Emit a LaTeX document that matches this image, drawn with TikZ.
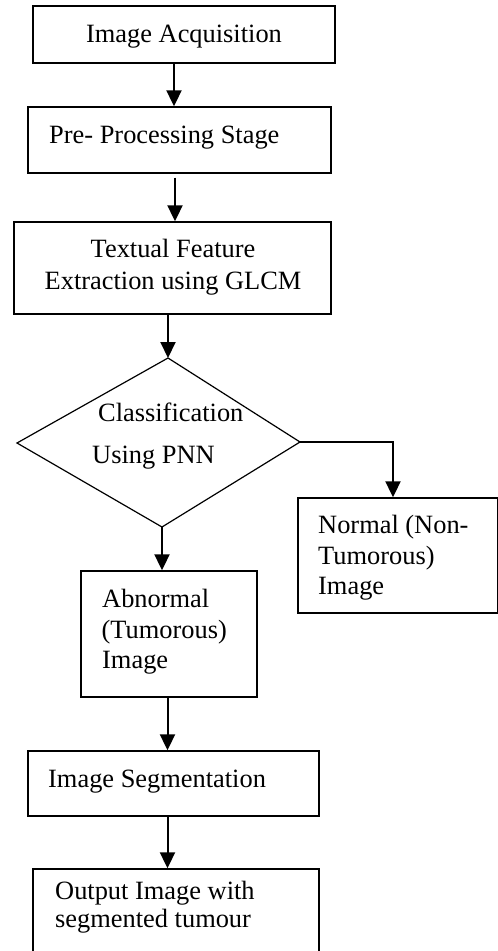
\documentclass[tikz,border=0pt]{standalone}
\usepackage{fontspec}
\setmainfont{Liberation Serif}
\usetikzlibrary{arrows.meta}
\begin{document}
\begin{tikzpicture}[x=1pt,y=-1pt,
  box/.style={draw, line width=1.4pt, rectangle, inner sep=0pt},
  txt/.style={inner sep=0pt, font=\fontsize{26.4}{31}\selectfont},
  arr/.style={line width=2pt, -{Triangle[length=16pt,width=15pt]}},
  dia/.style={line width=1.2pt, line join=miter}]
\useasboundingbox (0,0) rectangle (498,951);

% boxes
\node[box, minimum width=302pt, minimum height=57pt] (b1) at (184,34.5) {};
\node[box, minimum width=303pt, minimum height=66pt] (b2) at (179.5,140) {};
\node[box, minimum width=317pt, minimum height=92pt] (b3) at (172.5,268) {};
\node[box, minimum width=200pt, minimum height=115pt] (nrm) at (398,555.5) {};
\node[box, minimum width=176pt, minimum height=126pt] (abn) at (169,634) {};
\node[box, minimum width=291pt, minimum height=65pt] (seg) at (173.5,783.5) {};
\node[box, minimum width=286pt, minimum height=86pt] (out) at (176,912) {};

% decision diamond
\coordinate (dT) at (168,358);
\coordinate (dL) at (17,443);
\coordinate (dR) at (300,442);
\coordinate (dB) at (162,527);
\draw[dia] (dT) -- (dR) -- (dB) -- (dL) -- cycle;

% texts
\node[txt, anchor=base] (t1) at (184,42.5) {Image Acquisition};
\node[txt, anchor=base west] (t2) at (49,143.5) {Pre- Processing Stage};
\node[txt, anchor=base] (t3a) at (173,257) {Textual Feature};
\node[txt, anchor=base] (t3b) at (173,289) {Extraction using GLCM};
\node[txt, anchor=base west] (tda) at (98,421.5) {Classification};
\node[txt, anchor=base west] (tdb) at (92,463) {Using PNN};
\node[txt, anchor=base west] (tna) at (318,533.5) {Normal (Non-};
\node[txt, anchor=base west] (tnb) at (318,564) {Tumorous)};
\node[txt, anchor=base west] (tnc) at (318,594) {Image};
\node[txt, anchor=base west] (taa) at (102,607) {Abnormal};
\node[txt, anchor=base west] (tab) at (101.5,638) {(Tumorous)};
\node[txt, anchor=base west] (tac) at (102,668) {Image};
\node[txt, anchor=base west] (ts) at (48,787) {Image Segmentation};
\node[txt, anchor=base west] (toa) at (55,899) {Output Image with};
\node[txt, anchor=base west] (tob) at (55,927) {segmented tumour};

% connectors
\draw[arr] ([xshift=-10pt]b1.south) -- ([xshift=-5.5pt]b2.north);
\draw[arr] ([xshift=-4.5pt,yshift=-4pt]b2.south) -- ([xshift=2.5pt]b3.north);
\draw[arr] ([xshift=-4.5pt]b3.south) -- (dT);
\draw[arr] (dR) -| ([xshift=-5pt]nrm.north);
\draw[arr] (dB) -- (dB |- abn.north);
\draw[arr] ([xshift=-1.5pt]abn.south) -- ([xshift=-6pt]seg.north);
\draw[arr] ([xshift=-6pt]seg.south) -- ([xshift=-8.5pt]out.north);
\end{tikzpicture}
\end{document}
